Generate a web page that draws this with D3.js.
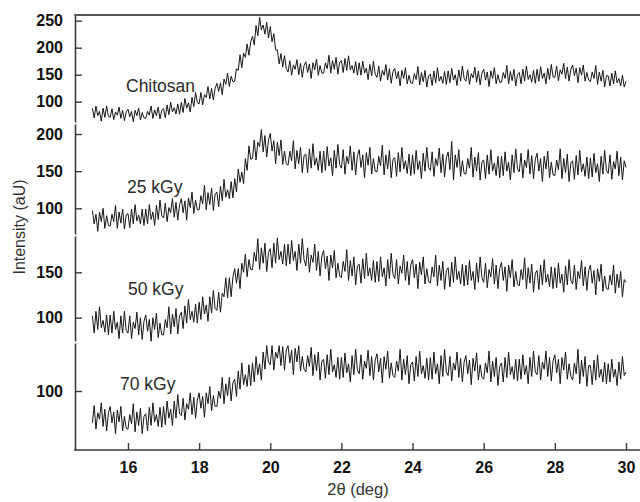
<!DOCTYPE html>
<html><head><meta charset="utf-8">
<script src="https://cdn.jsdelivr.net/npm/d3@7"></script>
<style>body{margin:0;background:#fff}svg{display:block;font-family:"Liberation Sans",Arial,sans-serif}</style>
</head><body><div id="chart"></div>
<script>
// 2θ grid: 15.00 .. 30.00 in 0.05 deg steps (301 points)
const thetaStart = 15, thetaStep = 0.05;
const xTicks = [16, 18, 20, 22, 24, 26, 28, 30];
const sampleNames = ["Chitosan", "25 kGy", "50 kGy", "70 kGy"];
const yTicksChitosan = [100, 150, 200, 250];
const yTicks25 = [100, 150, 200];
const yTicks50 = [100, 150];
const yTicks70 = [100];

const chitosan = [
88,70,92,74,82,64,88,71,92,73, 71,87,67,81,75,90,69,84,65,81,
86,72,82,63,84,74,88,66,80,70, 69,82,75,92,69,85,74,90,68,84,
87,70,94,76,99,81,89,77,96,77, 99,80,106,88,98,81,108,91,117,98,
96,117,94,113,108,128,105,125,103,125, 134,119,135,113,142,132,153,128,147,137,
138,161,158,187,163,190,182,207,186,211, 221,205,241,222,256,233,242,225,247,218,
239,211,226,196,196,170,189,164,185,161, 155,176,149,168,160,178,150,171,145,167,
174,154,170,143,172,159,179,149,167,153, 153,172,161,186,153,176,160,182,151,173,
176,154,180,158,185,159,167,153,174,149, 172,149,175,153,162,141,169,148,175,151,
145,166,138,158,149,169,140,161,134,156, 162,142,156,129,158,143,163,133,149,135,
134,152,141,165,131,154,137,158,127,148, 151,130,157,135,163,138,147,134,156,132,
157,135,162,140,150,130,159,138,166,143, 138,159,132,152,144,164,136,157,131,153,
160,140,155,128,157,143,163,133,150,136, 136,154,143,167,133,156,139,160,129,150,
154,133,160,138,166,141,150,136,158,134, 160,138,165,143,153,133,162,141,169,146,
145,166,139,159,151,171,143,164,138,160, 168,148,162,135,163,149,168,138,154,140,
137,155,143,167,132,155,138,158,127,148, 148,129,153,133,157,135,143,129,149,127,
138];

const kGy25 = [
97,79,92,69,95,82,100,73,90,77, 76,92,82,104,73,95,80,99,72,91,
93,74,99,79,105,83,91,79,99,77, 99,79,105,85,95,77,104,85,111,90,
87,107,82,101,94,113,88,108,84,105, 113,94,110,84,114,101,122,93,111,98,
98,117,106,131,98,121,105,127,97,119, 122,102,130,110,139,115,125,113,136,114,
140,122,153,135,149,133,167,151,184,166, 167,192,165,189,183,206,176,198,169,192,
201,177,191,160,189,171,192,159,177,160, 158,177,164,191,153,178,160,182,148,171,
173,148,180,154,187,158,168,151,177,148, 177,151,183,157,168,144,178,154,186,159,
154,179,146,170,160,184,151,176,145,171, 179,155,172,141,175,158,182,146,167,150,
149,170,157,185,145,172,153,178,141,166, 168,143,175,149,182,153,164,147,173,144,
172,146,178,152,164,140,174,150,182,155, 151,176,143,167,157,181,148,173,142,168,
176,152,190,138,172,155,179,143,164,147, 146,167,154,182,142,169,150,175,138,163,
165,140,172,146,179,150,161,144,170,141, 170,144,176,150,162,138,172,148,180,153,
149,174,141,165,155,179,146,171,140,166, 174,150,167,136,170,153,177,141,162,145,
144,165,152,180,140,167,148,173,136,161, 164,139,171,145,178,149,160,143,169,140,
168,142,174,148,160,136,170,146,178,151, 147,172,139,163,153,177,144,169,138,164,
155];

const kGy50 = [
102,83,107,87,112,89,97,84,103,81, 103,83,107,87,95,77,102,83,107,86,
83,102,77,95,88,106,81,100,76,96, 103,85,98,74,100,87,105,78,94,81,
81,98,89,112,82,104,90,110,82,102, 106,88,113,94,120,98,107,95,115,94,
117,98,123,104,114,96,123,105,130,110, 108,128,106,127,123,144,122,144,123,145,
154,138,154,132,160,150,170,145,164,153, 153,172,162,187,153,177,160,182,151,172,
176,155,182,160,188,164,173,159,181,157, 181,159,185,163,173,152,181,160,187,164,
157,177,150,169,161,181,152,173,146,168, 174,154,168,141,169,155,174,144,160,146,
144,162,151,175,141,163,146,167,136,157, 159,138,165,143,171,146,155,141,163,139,
162,140,167,145,155,135,164,143,171,148, 143,164,137,157,149,169,141,162,136,158,
164,144,159,132,161,147,167,137,154,140, 138,156,145,169,135,158,141,162,131,152,
155,134,161,139,167,142,151,137,159,135, 158,136,163,141,151,131,160,139,167,144,
139,160,133,153,145,165,137,158,132,154, 161,141,156,129,158,144,164,134,151,137,
135,153,142,166,132,155,138,159,128,149, 152,131,158,136,164,139,148,134,156,132,
155,133,160,138,148,128,157,136,164,141, 137,158,131,151,143,163,135,156,130,152,
158,138,152,125,154,140,159,129,146,132, 131,147,136,158,127,148,133,151,123,142,
139];

const kGy70 = [
65,84,58,76,69,87,61,80,56,76, 83,65,77,53,79,66,83,56,72,59,
58,74,64,86,55,77,62,81,53,72, 75,56,82,62,87,66,74,61,82,60,
83,63,89,70,80,62,89,70,96,75, 73,92,68,86,80,98,74,93,70,90,
98,81,94,71,98,86,105,78,95,83, 83,100,92,115,86,108,95,115,89,109,
113,94,122,102,131,107,118,105,129,106, 131,110,138,118,130,112,143,124,150,132,
129,150,123,143,136,150,128,149,123,145, 150,131,145,118,147,132,150,122,138,124,
121,139,127,148,117,140,122,143,112,133, 135,114,140,118,146,121,129,115,137,113,
137,115,142,120,130,110,139,118,146,123, 119,140,113,133,125,145,117,138,112,134,
141,121,136,109,138,124,144,114,131,117, 115,133,122,146,112,135,118,139,108,129,
132,111,138,116,144,119,128,114,136,112, 137,113,143,119,130,108,139,116,146,121,
117,138,111,131,123,143,115,136,110,132, 139,119,134,107,136,122,142,112,129,115,
113,131,120,144,110,133,116,137,106,127, 131,110,137,115,143,118,127,113,135,111,
135,113,140,118,128,108,137,116,144,121, 118,139,112,132,124,144,116,137,111,133,
140,120,135,108,137,123,143,113,130,116, 112,131,119,146,108,134,116,138,105,128,
128,107,134,112,140,115,124,110,132,108, 130,110,135,115,124,106,132,113,138,117,
121];

const W = 640, H = 502;
const svg = d3.select("#chart").append("svg").attr("width", W).attr("height", H);

const axisX0 = 75, axisRight = 640, axisTop = 15, axisBottom = 450;
const x = d3.scaleLinear().domain([15, 30]).range([92.4, 626]);

const panels = [
  {name: sampleNames[0], data: chitosan, ticks: yTicksChitosan, dom: [62.4, 260.5], rng: [122, 15], lab: [126, 92]},
  {name: sampleNames[1], data: kGy25, ticks: yTicks25, dom: [65.4, 213.5], rng: [234, 124], lab: [127, 193]},
  {name: sampleNames[2], data: kGy50, ticks: yTicks50, dom: [74.3, 190], rng: [341, 236], lab: [128, 295]},
  {name: sampleNames[3], data: kGy70, ticks: yTicks70, dom: [35, 152.9], rng: [450, 343], lab: [120, 390]}
];

const axisColor = "#3a3a3a";

panels.forEach(p => {
  const y = d3.scaleLinear().domain(p.dom).range(p.rng);
  const line = d3.line().x((d, i) => x(thetaStart + i * thetaStep)).y(d => y(d));
  svg.append("path").datum(p.data).attr("d", line)
    .attr("fill", "none").attr("stroke", "#161616").attr("stroke-width", 1.0)
    .attr("stroke-linejoin", "round");

  const g = svg.append("g").attr("transform", `translate(${axisX0},0)`)
    .call(d3.axisLeft(y).tickValues(p.ticks).tickSize(-7).tickSizeOuter(0).tickPadding(12));
  g.select(".domain").attr("stroke", axisColor).attr("stroke-width", 1.6);
  g.selectAll(".tick line").attr("stroke", axisColor).attr("stroke-width", 1.4);
  g.selectAll(".tick text").attr("font-size", 16).attr("font-weight", "bold")
    .attr("fill", "#111").attr("font-family", "Liberation Sans, Arial, sans-serif");

  svg.append("text").attr("x", p.lab[0]).attr("y", p.lab[1]).text(p.name)
    .attr("font-size", 17.5).attr("fill", "#2a2a2a");
});

// x axis
const gx = svg.append("g").attr("transform", `translate(0,${axisBottom})`)
  .call(d3.axisBottom(x).tickValues(xTicks).tickSize(-7).tickSizeOuter(0).tickPadding(12));
gx.select(".domain").remove();
gx.selectAll(".tick line").attr("stroke", axisColor).attr("stroke-width", 1.4);
gx.selectAll(".tick text").attr("font-size", 16).attr("font-weight", "bold")
  .attr("fill", "#111").attr("font-family", "Liberation Sans, Arial, sans-serif");
svg.append("line").attr("x1", axisX0 - 0.8).attr("x2", axisRight).attr("y1", axisBottom).attr("y2", axisBottom)
  .attr("stroke", axisColor).attr("stroke-width", 1.6);
// top frame line
svg.append("line").attr("x1", axisX0 - 0.8).attr("x2", axisRight).attr("y1", axisTop).attr("y2", axisTop)
  .attr("stroke", "#555").attr("stroke-width", 1.8);

// axis titles
svg.append("text").attr("x", 358).attr("y", 495).attr("text-anchor", "middle")
  .attr("font-size", 16.5).attr("fill", "#333").text("2θ (deg)");
svg.append("text").attr("transform", "translate(25,227) rotate(-90)").attr("text-anchor", "middle")
  .attr("font-size", 16).attr("fill", "#333").text("Intensity (aU)");
</script></body></html>
